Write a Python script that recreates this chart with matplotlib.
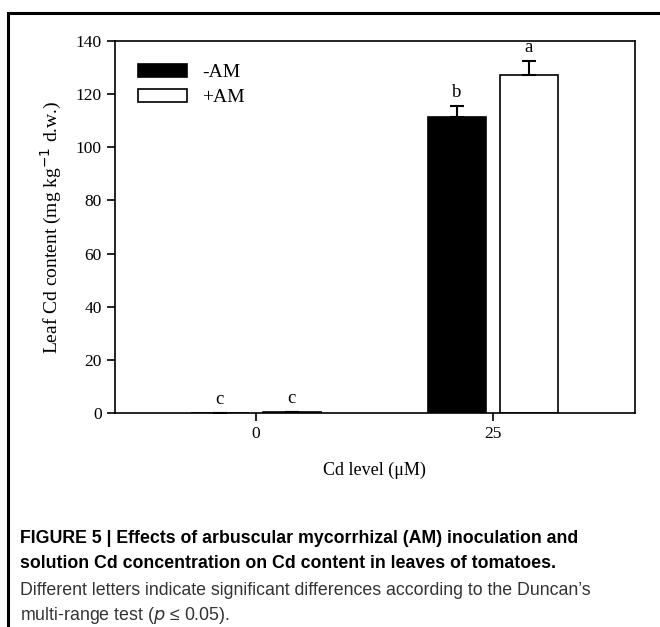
import matplotlib.pyplot as plt
import numpy as np
from matplotlib.patches import Rectangle

groups = ["0", "25"]
minus_am = [0.2, 111.5]
plus_am = [0.6, 127.0]
minus_err = [0.0, 4.0]
plus_err = [0.0, 5.5]
minus_letters = ["c", "b"]
plus_letters = ["c", "a"]

serif = ["Liberation Serif", "DejaVu Serif"]
sans = ["Liberation Sans", "DejaVu Sans"]

fig = plt.figure(figsize=(6.6, 6.27), dpi=100)
ax = fig.add_axes([0.174, 0.341, 0.788, 0.594])

x = np.arange(len(groups))
w = 0.245
off = 0.152
ekw = dict(ecolor="black", capsize=5, elinewidth=1.5, capthick=1.5)
ax.bar(x - off, minus_am, w, color="black", edgecolor="black", linewidth=1.2, label="-AM",
       yerr=[np.zeros(2), minus_err], error_kw=ekw)
ax.bar(x + off, plus_am, w, color="white", edgecolor="black", linewidth=1.2, label="+AM",
       yerr=[np.zeros(2), plus_err], error_kw=ekw)

for i in range(len(groups)):
    ax.text(x[i] - off, minus_am[i] + minus_err[i] + 1.8, minus_letters[i], ha="center", va="bottom",
            family=serif, fontsize=13.5)
    ax.text(x[i] + off, plus_am[i] + plus_err[i] + 1.8, plus_letters[i], ha="center", va="bottom",
            family=serif, fontsize=13.5)

ax.set_xlim(-0.595, 1.6)
ax.set_ylim(0, 140)
ax.set_yticks(range(0, 141, 20))
ax.set_xticks(x)
ax.set_xticklabels(groups)
ax.tick_params(direction="out", length=6, width=1.2, labelsize=12.5)
for lbl in ax.get_xticklabels() + ax.get_yticklabels():
    lbl.set_family(serif)
for s in ax.spines.values():
    s.set_linewidth(1.2)

ax.set_ylabel("Leaf Cd content (mg kg$^{-1}$ d.w.)", family=serif, fontsize=14, labelpad=8)
ax.set_xlabel("Cd level (μM)", family=serif, fontsize=13, labelpad=14)

ax.legend(loc="upper left", frameon=False, prop=dict(family=serif, size=14),
          handlelength=2.5, handleheight=0.62, handletextpad=0.8,
          borderaxespad=0.8, labelspacing=0.4)

fig.patches.append(Rectangle((8 / 660, -0.1), 1.2, 1 - 13 / 627 + 0.1, transform=fig.transFigure,
                             fill=False, edgecolor="black", linewidth=2.2))

fig.text(20 / 660, 1 - 551 / 627,
         "FIGURE 5 | Effects of arbuscular mycorrhizal (AM) inoculation and\n"
         "solution Cd concentration on Cd content in leaves of tomatoes.",
         family=sans, fontsize=12.8, fontweight="bold", va="center", linespacing=1.55)
fig.text(20 / 660, 1 - 604 / 627,
         "Different letters indicate significant differences according to the Duncan\u2019s\n"
         "multi-range test ($p$ \u2264 0.05).",
         family=sans, fontsize=12.8, color="#333333", va="center", linespacing=1.45)

fig.savefig("out.png", dpi=100)
